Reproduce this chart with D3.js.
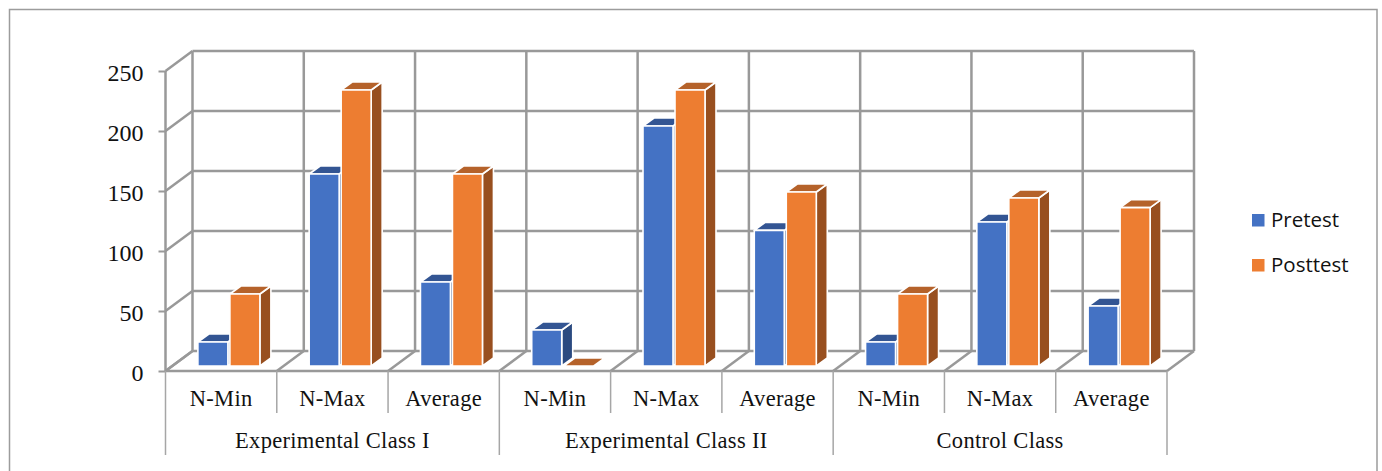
<!DOCTYPE html>
<html>
<head>
<meta charset="utf-8">
<script src="https://cdn.jsdelivr.net/npm/d3@7"></script>
<style>
    html, body { margin: 0; padding: 0; background: #fff; overflow: hidden; }
    text { fill: #111; }
</style>
</head>
<body>
<div id="my_dataviz"></div>
<script>
// values
const groups = ["Experimental Class I", "Experimental Class II", "Control Class"];
const measures = ["N-Min", "N-Max", "Average"];
const seriesNames = ["Pretest", "Posttest"];
const pretest = [20, 160, 70, 30, 200, 113, 20, 120, 50];
const posttest = [60, 230, 160, 0, 230, 145, 60, 140, 132];
const yTicks = [0, 50, 100, 150, 200, 250];

const serifFont = "'Liberation Serif', serif";
const gridColor = "#999999";
const colors = {
    Pretest: { front: "#4472C4", top: "#335593", side: "#2B4A80" },
    Posttest: { front: "#ED7D31", top: "#B5622A", side: "#984F1F" }
};

const width = 1382, height = 471;

// front edge of the floor, the back wall sits depth px right and up
const left = 165.5, right = 1167, floorY = 371, topY = 71;
const depth = { x: 27, y: 20 };
const barInset = { x: 7.75, y: 5 };   // bars stand a bit behind the front edge
const barDepth = { x: 11, y: 8 };

const svg = d3.select("#my_dataviz")
    .append("svg")
    .attr("width", width)
    .attr("height", height)
    .style("display", "block");

// outer frame, it has no bottom line in the picture
svg.append("path")
    .attr("d", `M9.5,${height}V9.5H1377V${height}`)
    .attr("fill", "none")
    .attr("stroke", "#9c9c9c")
    .attr("stroke-width", 1.5);

const categories = d3.range(pretest.length);

const x = d3.scaleBand()
    .domain(categories)
    .range([left, right]);

const y = d3.scaleLinear()
    .domain([0, 250])
    .range([floorY, topY]);

const inner = d3.scaleBand()
    .domain(seriesNames)
    .range([0, x.bandwidth()])
    .paddingInner(0.0625)
    .paddingOuter(0.77);

const walls = svg.append("g")
    .attr("fill", "none")
    .attr("stroke", gridColor)
    .attr("stroke-width", 2.5);

// back wall horizontals and left wall diagonals
yTicks.forEach(t => {
    walls.append("line")
        .attr("x1", left + depth.x).attr("x2", right + depth.x)
        .attr("y1", y(t) - depth.y).attr("y2", y(t) - depth.y);
    walls.append("line")
        .attr("x1", left).attr("x2", left + depth.x)
        .attr("y1", y(t)).attr("y2", y(t) - depth.y);
});

// back wall verticals and floor diagonals
x.domain().concat([categories.length]).forEach(i => {
    const px = i === categories.length ? right : x(i);
    walls.append("line")
        .attr("x1", px + depth.x).attr("x2", px + depth.x)
        .attr("y1", y(0) - depth.y).attr("y2", y(250) - depth.y);
    walls.append("line")
        .attr("x1", px).attr("x2", px + depth.x)
        .attr("y1", y(0)).attr("y2", y(0) - depth.y);
});

// front edge of the floor and front left post
walls.append("line")
    .attr("x1", left).attr("x2", right)
    .attr("y1", y(0)).attr("y2", y(0));
walls.append("line")
    .attr("x1", left).attr("x2", left)
    .attr("y1", y(0)).attr("y2", y(250));

// y axis
const yAxis = svg.append("g")
    .attr("transform", `translate(${left},0)`)
    .call(d3.axisLeft(y).tickValues(yTicks).tickSize(7).tickPadding(15));
yAxis.select(".domain").remove();
yAxis.selectAll("line").attr("stroke", gridColor).attr("stroke-width", 2);
yAxis.selectAll("text")
    .attr("dy", "0.38em")
    .style("font-family", serifFont)
    .style("font-size", "24px")
    .style("fill", "#111");

// bars
function addBar(g, name, value, i) {
    const c = colors[name];
    const x0 = x(i) + barInset.x + inner(name);
    const x1 = x0 + inner.bandwidth();
    const y0 = y(0) - barInset.y;
    const y1 = y(value) - barInset.y;
    const dx = barDepth.x, dy = barDepth.y;

    if (value > 0) {
        g.append("path")
            .attr("d", `M${x1},${y0}L${x1 + dx},${y0 - dy}L${x1 + dx},${y1 - dy}L${x1},${y1}Z`)
            .attr("fill", c.side);
    }
    g.append("path")
        .attr("d", `M${x0},${y1}L${x0 + dx},${y1 - dy}L${x1 + dx},${y1 - dy}L${x1},${y1}Z`)
        .attr("fill", c.top);
    if (value > 0) {
        g.append("rect")
            .attr("x", x0)
            .attr("y", y1)
            .attr("width", x1 - x0)
            .attr("height", y0 - y1)
            .attr("fill", c.front);
    }
}

const bars = svg.append("g")
    .attr("stroke", "#fff")
    .attr("stroke-width", 1.6)
    .attr("stroke-linejoin", "round");

categories.forEach(i => {
    addBar(bars, "Pretest", pretest[i], i);
    addBar(bars, "Posttest", posttest[i], i);
});

// two level category axis
const axisColor = "#a6a6a6";
const sepY = floorY + 42, groupSepY = floorY + 84;

categories.forEach(i => {
    svg.append("text")
        .attr("x", x(i) + x.bandwidth() / 2)
        .attr("y", 406)
        .attr("text-anchor", "middle")
        .style("font-family", serifFont)
        .style("font-size", "22.5px")
        .style("letter-spacing", "0.3px")
        .text(measures[i % measures.length]);
    if (i % measures.length !== 0) {
        svg.append("line")
            .attr("x1", x(i)).attr("x2", x(i))
            .attr("y1", floorY).attr("y2", sepY)
            .attr("stroke", axisColor).attr("stroke-width", 1.5);
    }
});

groups.forEach((g, k) => {
    const start = x(k * measures.length);
    const end = start + x.bandwidth() * measures.length;
    svg.append("text")
        .attr("x", (start + end) / 2)
        .attr("y", 448)
        .attr("text-anchor", "middle")
        .style("font-family", serifFont)
        .style("font-size", "22.5px")
        .style("letter-spacing", "0.3px")
        .text(g);
    svg.append("line")
        .attr("x1", start).attr("x2", start)
        .attr("y1", floorY).attr("y2", groupSepY)
        .attr("stroke", axisColor).attr("stroke-width", 1.5);
    if (k === groups.length - 1) {
        svg.append("line")
            .attr("x1", end).attr("x2", end)
            .attr("y1", floorY).attr("y2", groupSepY)
            .attr("stroke", axisColor).attr("stroke-width", 1.5);
    }
});

// legend
seriesNames.forEach((name, i) => {
    const item = svg.append("g")
        .attr("transform", `translate(1252, ${214 + 45 * i})`);
    item.append("rect")
        .attr("width", 12.5)
        .attr("height", 12.5)
        .attr("fill", colors[name].front);
    item.append("text")
        .attr("x", 19)
        .attr("y", 13)
        .style("font-family", "'Open Sans', sans-serif")
        .style("font-size", "20.5px")
        .text(name);
});
</script>
</body>
</html>
